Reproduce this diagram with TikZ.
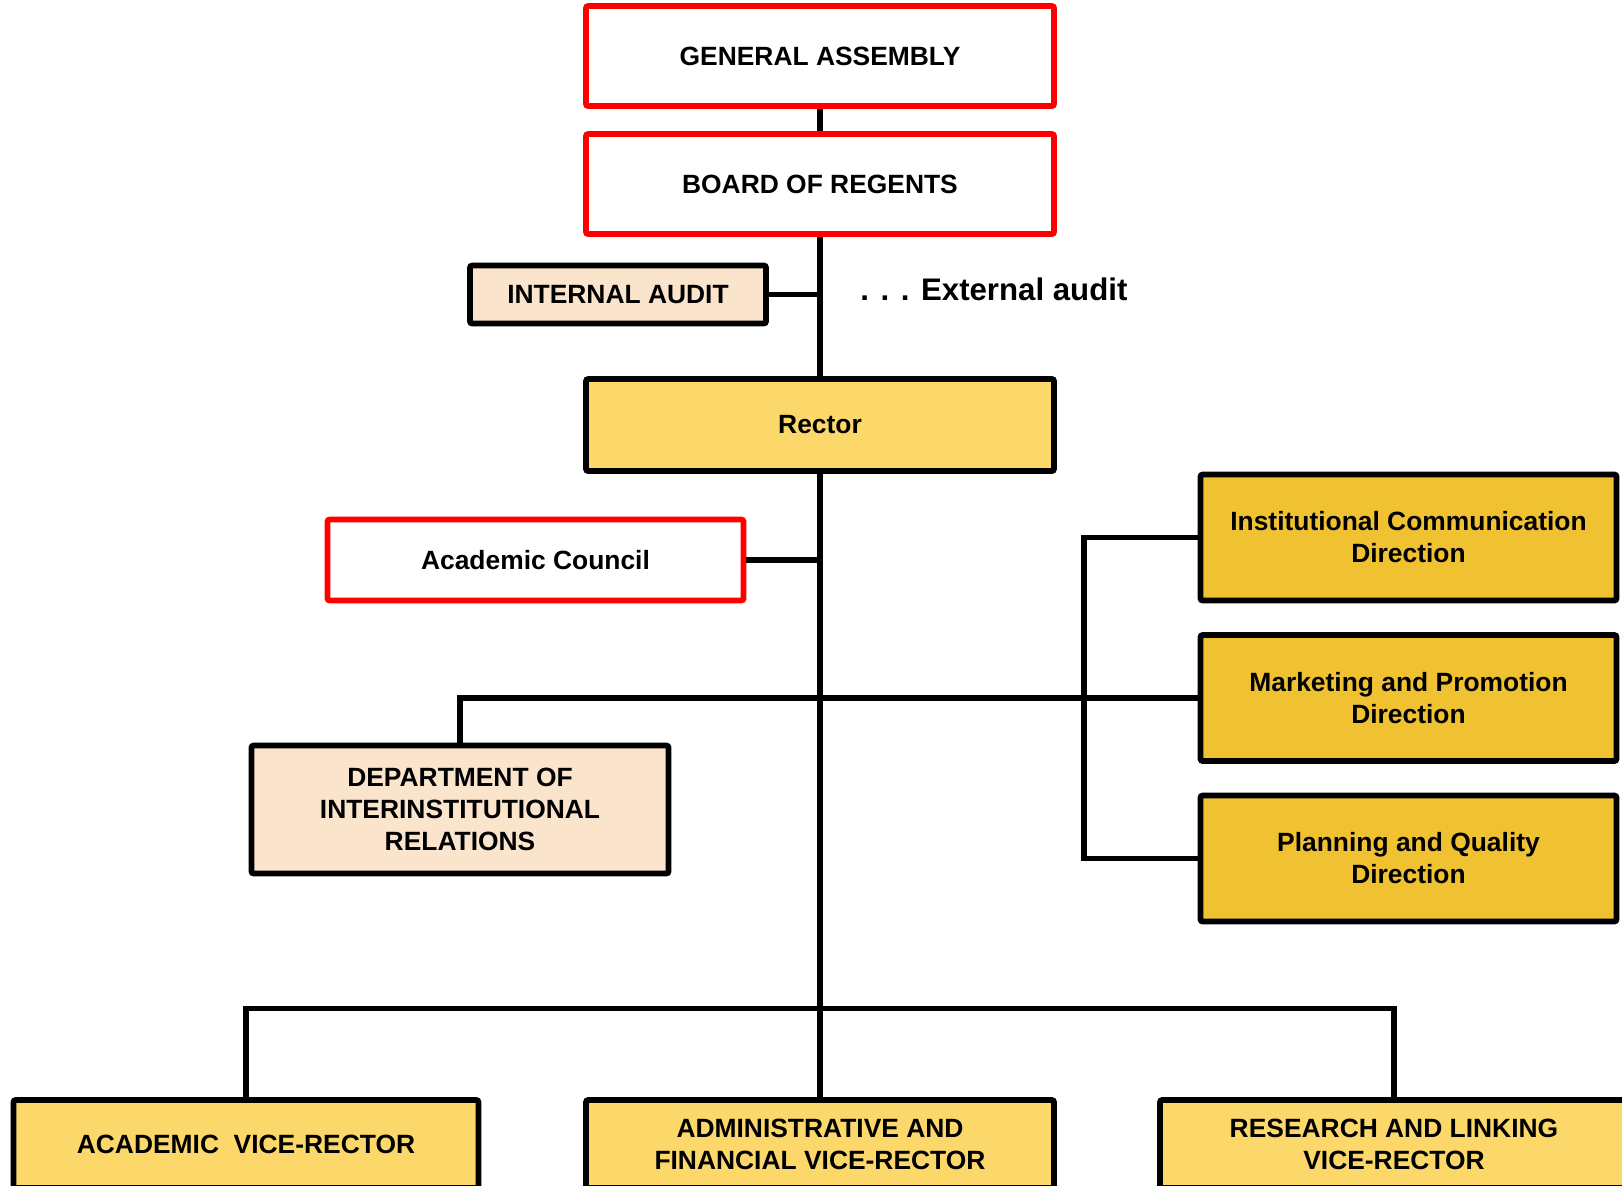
\documentclass[tikz,border=0pt]{standalone}
\usepackage{fontspec}
\setmainfont{Liberation Sans}
\definecolor{redline}{HTML}{FF0000}
\definecolor{peach}{HTML}{FBE4CC}
\definecolor{lightyel}{HTML}{FCD86A}
\definecolor{darkyel}{HTML}{F0C232}
\tikzset{
  orgbox/.style={draw, line width=2.8pt, inner sep=0pt, align=center, rounded corners=1pt,
    font=\fontsize{13.2}{16}\selectfont\bfseries},
  redbox/.style={orgbox, draw=redline, fill=white},
  peachbox/.style={orgbox, draw=black, fill=peach},
  lyelbox/.style={orgbox, draw=black, fill=lightyel},
  dyelbox/.style={orgbox, draw=black, fill=darkyel},
  conn/.style={draw=black, line width=2.6pt},
}
\begin{document}
\begin{tikzpicture}[x=0.5pt,y=-0.5pt]
\useasboundingbox (0,0) rectangle (1622,1185);
\clip (0,0) rectangle (1622,1185);
% nodes
\node[redbox, minimum width=234pt, minimum height=50pt] (ga) at (820,56) {GENERAL ASSEMBLY};
\node[redbox, minimum width=234pt, minimum height=50pt] (bor) at (820,184) {BOARD OF REGENTS};
\node[peachbox, minimum width=148pt, minimum height=29pt] (ia) at (618,294.5) {INTERNAL AUDIT};
\node[inner sep=0pt, anchor=west, font=\fontsize{15.6}{19}\selectfont\bfseries] (ea) at (860,289) {. . . External audit};
\node[lyelbox, minimum width=234pt, minimum height=46pt] (rector) at (820,425) {Rector};
\node[redbox, minimum width=208pt, minimum height=40.5pt] (ac) at (535.5,560) {Academic Council};
\node[peachbox, minimum width=208.5pt, minimum height=64pt] (dept) at (460,809.5) {DEPARTMENT OF\\INTERINSTITUTIONAL\\RELATIONS};
\node[dyelbox, minimum width=208pt, minimum height=63pt] (icd) at (1408.5,537.5) {Institutional Communication\\Direction};
\node[dyelbox, minimum width=208pt, minimum height=63pt] (mpd) at (1408.5,698) {Marketing and Promotion\\Direction};
\node[dyelbox, minimum width=208pt, minimum height=63pt] (pqd) at (1408.5,858.5) {Planning and Quality\\Direction};
\node[lyelbox, minimum width=232.5pt, minimum height=44pt] (avr) at (246,1144) {ACADEMIC\ \ VICE-RECTOR};
\node[lyelbox, minimum width=234pt, minimum height=44pt] (afvr) at (820,1144) {ADMINISTRATIVE AND\\FINANCIAL VICE-RECTOR};
\node[lyelbox, minimum width=234pt, minimum height=44pt] (rvr) at (1394,1144) {RESEARCH AND LINKING\\VICE-RECTOR};
% junction coordinates
\coordinate (rj) at (1084,537.5);
\coordinate (bj) at (820,1008.5);
% connectors
\draw[conn] (ga.south) -- (bor.north);
\draw[conn] (bor.south) -- (rector.north);
\draw[conn] (ia.east) -- (ia.east -| bor.south);
\draw[conn] (rector.south) -- (afvr.north);
\draw[conn] (ac.east) -- (ac.east -| rector.south);
\draw[conn] (dept.north) |- (mpd.west);
\draw[conn] (icd.west) -- (icd.west -| rj) -- (pqd.west -| rj) -- (pqd.west);
\draw[conn] (avr.north) |- (bj) -| (rvr.north);
\end{tikzpicture}
\end{document}
